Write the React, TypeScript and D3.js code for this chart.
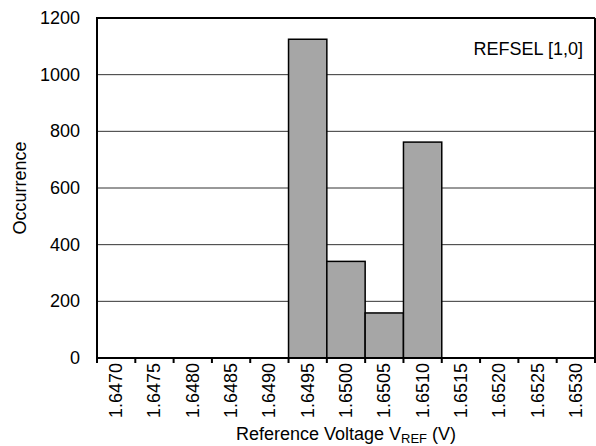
import React from "react";
import * as d3 from "d3";

const categories = ["1.6470","1.6475","1.6480","1.6485","1.6490","1.6495","1.6500","1.6505","1.6510","1.6515","1.6520","1.6525","1.6530"];
const counts = [0,0,0,0,0,1125,341,159,762,0,0,0,0];
const yTicks = [0,200,400,600,800,1000,1200];
const annotation = "REFSEL [1,0]";

const W = 596, H = 446;
const M = { left: 97, right: 595, top: 18, bottom: 358 };
const FONT = "Liberation Sans, Arial, sans-serif";

export default function App() {
  const x = d3.scaleBand<string>().domain(categories).range([M.left, M.right]).padding(0);
  const y = d3.scaleLinear().domain([0, 1200]).range([M.bottom, M.top]);
  const bw = x.bandwidth();
  const boundaries = d3.range(categories.length + 1).map(i => M.left + i * bw);
  return (
    <div style={{ position: "fixed", left: 0, top: 0, width: W, height: H, background: "#fff" }}>
      <svg width={W} height={H} style={{ display: "block" }} fontFamily={FONT}>
        <rect x={0} y={0} width={W} height={H} fill="#fff" />
        {yTicks.filter(t => t > 0 && t < 1200).map(t => (
          <line key={t} x1={M.left} x2={M.right} y1={y(t)} y2={y(t)} stroke="#333" strokeWidth={1} />
        ))}
        {categories.map((c, i) => counts[i] > 0 ? (
          <rect key={c} x={x(c)!} y={y(counts[i])} width={bw} height={y(0) - y(counts[i])}
            fill="#a6a6a6" stroke="#000" strokeWidth={1.5} />
        ) : null)}
        <line x1={M.left} x2={M.right} y1={M.top} y2={M.top} stroke="#000" strokeWidth={2} />
        <line x1={M.right} x2={M.right} y1={M.top} y2={M.bottom} stroke="#000" strokeWidth={2} />
        <line x1={M.left} x2={M.left} y1={M.top - 1} y2={M.bottom + 5} stroke="#000" strokeWidth={2} />
        <line x1={M.left - 1} x2={M.right} y1={M.bottom} y2={M.bottom} stroke="#000" strokeWidth={2} />
        {boundaries.map((b, i) => (
          <line key={i} x1={b} x2={b} y1={M.bottom} y2={M.bottom + 5} stroke="#000" strokeWidth={2} />
        ))}
        {yTicks.map(t => (
          <text key={t} x={80} y={y(t)} textAnchor="end" dominantBaseline="central" fontSize={18} fill="#000">{t}</text>
        ))}
        {categories.map(c => {
          const cx = x(c)! + bw / 2;
          return (
            <text key={c} transform={`translate(${cx},${M.bottom + 5}) rotate(-90)`} textAnchor="end"
              dominantBaseline="central" fontSize={18} fill="#000">{c}</text>
          );
        })}
        <text transform={`translate(20,${(M.top + M.bottom) / 2}) rotate(-90)`} textAnchor="middle"
          dominantBaseline="central" fontSize={18} fill="#000">Occurrence</text>
        <text x={(M.left + M.right) / 2} y={440} textAnchor="middle" fontSize={18} fill="#000">
          Reference Voltage V<tspan fontSize={13} dy={3}>REF</tspan><tspan dy={-3}> (V)</tspan>
        </text>
        <text x={583} y={55} textAnchor="end" fontSize={18} fill="#000">{annotation}</text>
      </svg>
    </div>
  );
}
